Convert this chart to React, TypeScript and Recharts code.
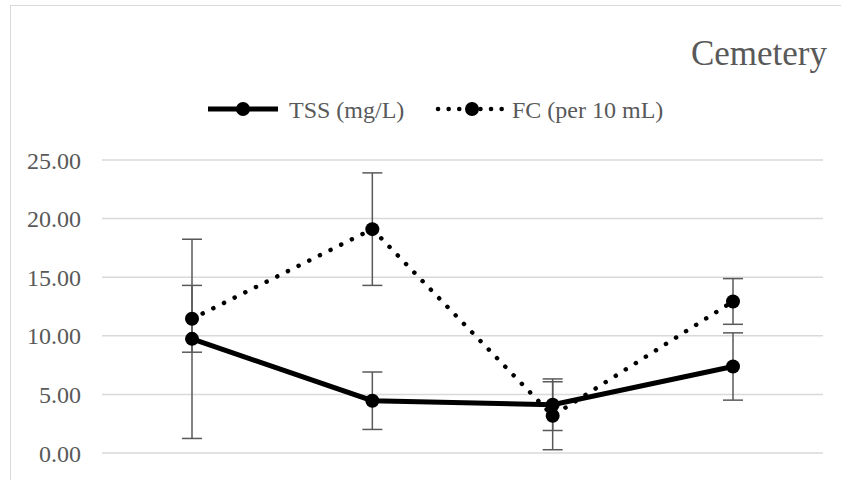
import { CartesianGrid, ErrorBar, Line, LineChart, XAxis, YAxis } from 'recharts';

const sites = ['Site 1', 'Site 2', 'Site 3', 'Site 4'];
const tss = [9.74, 4.46, 4.12, 7.38];
const tssErr = [8.5, 2.45, 2.2, 2.87];
const fc = [11.45, 19.1, 3.18, 12.93];
const fcErr = [2.85, 4.8, 2.9, 1.95];
const yTicks = [0, 5, 10, 15, 20, 25];

const data = sites.map((site, i) => ({
  site,
  tss: tss[i],
  tssErr: tssErr[i],
  fc: fc[i],
  fcErr: fcErr[i],
}));

const serif = "'Liberation Serif', 'Times New Roman', Times, serif";
const grey = '#595959';

// title + legend sit outside the recharts layout so they don't push the plot down
function Header() {
  const txt = { fontFamily: serif, fontSize: 24, fill: grey };
  return (
    <svg width={841} height={140} style={{ position: 'absolute', left: 0, top: 0 }}>
      <text x={827} y={65} textAnchor="end" style={{ fontFamily: serif, fontSize: 35, fill: grey }}>
        Cemetery
      </text>
      <line x1={208} y1={109} x2={278} y2={109} stroke="#000" strokeWidth={5} />
      <circle cx={243} cy={109} r={7} fill="#000" />
      <text x={289} y={118} style={txt}>TSS (mg/L)</text>
      <line x1={438} y1={109} x2={502} y2={109} stroke="#000" strokeWidth={4.5} strokeDasharray="0.1 10.5" strokeLinecap="round" />
      <circle cx={472} cy={109} r={7} fill="#000" />
      <text x={512} y={118} style={txt}>FC (per 10 mL)</text>
    </svg>
  );
}

export default function App() {
  return (
    <div style={{ position: 'absolute', left: 0, top: 0, width: 841, height: 480, overflow: 'hidden', background: '#fff' }}>
      <div style={{ position: 'absolute', left: 10, top: 5, width: 900, height: 600, border: '1.5px solid #d9d9d9' }} />
      <Header />
      <div style={{ position: 'absolute', left: 0, top: 0 }}>
        <LineChart width={841} height={480} data={data} margin={{ top: 160, right: 18, left: 0, bottom: 0 }}>
          <CartesianGrid vertical={false} stroke="#d9d9d9" strokeWidth={1.5} />
          <XAxis dataKey="site" height={27} tick={false} tickLine={false} axisLine={false} padding={{ left: 90, right: 90 }} />
          <YAxis
            width={102}
            domain={[0, 25]}
            ticks={yTicks}
            tickFormatter={(v) => Number(v).toFixed(2)}
            axisLine={false}
            tickLine={false}
            tickMargin={15}
            tick={{ fill: grey, fontSize: 24, style: { fontFamily: serif } }}
          />
          <Line
            dataKey="fc"
            stroke="#000"
            strokeWidth={4.5}
            strokeDasharray="0.1 11.8"
            strokeLinecap="round"
            dot={{ r: 7, fill: '#000', stroke: 'none', strokeDasharray: '' }}
            activeDot={false}
            isAnimationActive={false}
          >
            <ErrorBar dataKey="fcErr" width={10} stroke={grey} strokeWidth={1.5} direction="y" />
          </Line>
          <Line
            dataKey="tss"
            stroke="#000"
            strokeWidth={5}
            dot={{ r: 7, fill: '#000', stroke: 'none' }}
            activeDot={false}
            isAnimationActive={false}
          >
            <ErrorBar dataKey="tssErr" width={10} stroke={grey} strokeWidth={1.5} direction="y" />
          </Line>
        </LineChart>
      </div>
    </div>
  );
}
